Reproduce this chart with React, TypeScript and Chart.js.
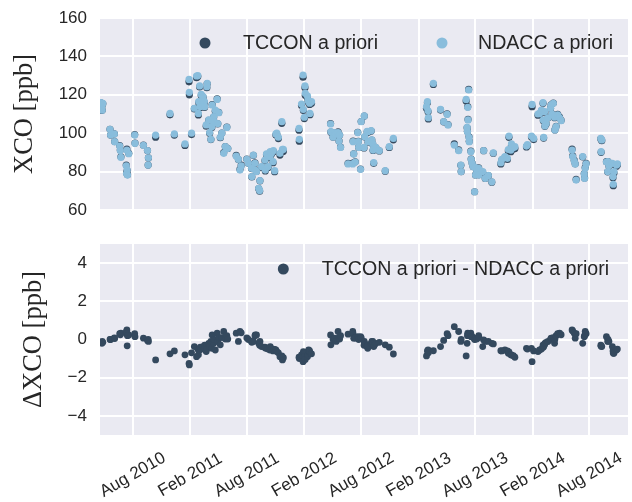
import React, { useEffect, useRef } from "react";
import { Chart, registerables } from "chart.js";

Chart.register(...registerables);

// ---------- data ----------
const obsDates = [
  "2010-04-21","2010-04-24","2010-04-25","2010-04-27","2010-05-20","2010-05-22","2010-06-03","2010-06-04","2010-06-20","2010-06-22",
  "2010-06-24","2010-07-13","2010-07-19","2010-07-11","2010-07-14","2010-07-12","2010-07-15","2010-08-07","2010-08-08","2010-09-04",
  "2010-09-17","2010-09-20","2010-09-19","2010-10-13","2010-11-28","2010-12-12","2011-01-15","2011-01-28","2011-01-29","2011-02-05",
  "2011-02-14","2011-02-21","2011-02-25","2011-02-28","2011-02-27","2011-03-03","2011-03-05","2011-03-08","2011-03-14","2011-03-18",
  "2011-03-19","2011-03-24","2011-03-27","2011-03-26","2011-04-01","2011-04-04","2011-04-08","2011-04-12","2011-04-11","2011-04-17",
  "2011-04-18","2011-04-22","2011-04-28","2011-04-30","2011-05-03","2011-05-08","2011-05-13","2011-05-19","2011-05-24","2011-05-29",
  "2011-06-01","2011-06-28","2011-07-05","2011-07-10","2011-07-14","2011-08-01","2011-08-06","2011-08-16","2011-08-17","2011-08-22",
  "2011-08-27","2011-08-28","2011-09-01","2011-09-08","2011-09-12","2011-09-11","2011-09-17","2011-09-28","2011-09-29","2011-10-03",
  "2011-10-08","2011-10-14","2011-10-15","2011-10-19","2011-10-24","2011-10-25","2011-10-29","2011-11-02","2011-11-05","2011-11-10",
  "2011-11-15","2011-11-21","2011-11-23","2011-11-26","2012-01-15","2012-01-16","2012-01-23","2012-01-28","2012-01-29","2012-02-01",
  "2012-02-03","2012-02-04","2012-02-11","2012-02-13","2012-02-15","2012-02-19","2012-02-18","2012-02-24","2012-04-25","2012-04-26",
  "2012-05-03","2012-05-08","2012-05-13","2012-05-19","2012-05-22","2012-05-24","2012-05-27","2012-06-20","2012-07-05","2012-07-06",
  "2012-07-08","2012-07-13","2012-07-21","2012-07-23","2012-07-24","2012-07-30","2012-08-01","2012-08-11","2012-08-12","2012-08-10",
  "2012-08-20","2012-08-22","2012-08-23","2012-09-02","2012-09-04","2012-09-07","2012-09-08","2012-09-10","2012-09-12","2012-09-17",
  "2012-09-28","2012-10-17","2012-10-30","2012-11-12","2013-02-26","2013-03-01","2013-03-03","2013-03-04","2013-03-20","2013-04-12",
  "2013-04-22","2013-05-03","2013-05-06","2013-05-26","2013-06-09","2013-06-16","2013-06-17","2013-07-03","2013-07-06","2013-07-08",
  "2013-07-09","2013-07-07","2013-07-11","2013-07-12","2013-07-13","2013-07-18","2013-07-19","2013-07-22","2013-07-25","2013-07-30",
  "2013-08-01","2013-08-02","2013-08-06","2013-08-12","2013-08-13","2013-08-25","2013-08-28","2013-09-02","2013-09-12","2013-09-23",
  "2013-09-28","2013-10-22","2013-10-25","2013-11-04","2013-11-12","2013-11-15","2013-11-17","2013-11-23","2013-11-25","2013-12-01",
  "2013-12-06","2014-01-12","2014-01-15","2014-01-28","2014-01-30","2014-02-04","2014-02-18","2014-02-23","2014-03-01","2014-03-06",
  "2014-03-07","2014-03-08","2014-03-11","2014-03-12","2014-03-16","2014-03-22","2014-03-30","2014-04-01","2014-04-04","2014-04-08",
  "2014-04-12","2014-04-13","2014-04-17","2014-04-22","2014-04-28","2014-05-03","2014-06-07","2014-06-09","2014-06-14","2014-06-17",
  "2014-06-20","2014-07-11","2014-07-16","2014-07-17","2014-07-19","2014-07-22","2014-09-07","2014-09-10","2014-09-08","2014-09-25",
  "2014-09-30","2014-09-29","2014-10-03","2014-10-14","2014-10-16","2014-10-17","2014-10-19","2014-10-27","2014-10-30",
];

// NDACC a priori XCO [ppb]
const ndaccXco = [
  116, 114, 112, 115.5, 102, 99, 99.6, 95.6, 93.3, 91,
  87.4, 91.2, 89.3, 83, 80.8, 79, 78.2, 99, 94.7, 93.7,
  91, 87.2, 83.4, 99, 110.3, 99.6, 94.4, 128, 121.3, 100,
  113, 129.8, 130, 116.4, 110.3, 124.6, 113.8, 120.2, 119, 116.4,
  113.8, 104.3, 126, 124.2, 106.9, 100.3, 96.8, 114.7, 103.4, 108.6,
  106, 112, 117.6, 105, 110.7, 97.9, 100, 89.5, 93, 103,
  92, 88.1, 86.4, 80.8, 83, 86.4, 84.3, 81.7, 77.4, 88.6,
  84.3, 80.8, 80, 71.3, 75.3, 70.1, 82.6, 86, 80.8, 89.2,
  82.6, 87.8, 90.4, 89.7, 85.2, 90.9, 80.5, 99.6, 100, 97.9,
  89.5, 106, 91.6, 91.6, 102.5, 96.8, 115.2, 130.3, 112.4, 108.3,
  124.6, 120.8, 119.4, 117.3, 116.4, 110.3, 115.6, 116.4, 104.8, 100.8,
  97.9, 100.3, 99.5, 100.3, 95.9, 99, 92.6, 84, 84, 95.6,
  89.2, 85, 100.3, 95.6, 92.6, 81.2, 106, 109, 98.2, 92.6,
  101, 100.8, 95.6, 101.3, 96.5, 94.4, 91.2, 84.7, 92, 92.6,
  90.9, 80.5, 93, 97.3, 113.8, 116.4, 111.7, 108.1, 126, 112.4,
  106, 109.8, 104.3, 93.8, 90.9, 83.4, 80, 117.6, 103, 113.5,
  106.9, 100.8, 122.5, 97.9, 95.6, 90.4, 86.4, 84.3, 82.6, 69.5,
  82.2, 78.2, 80, 81.7, 78.2, 80, 90.9, 76.5, 78, 74.7,
  89.8, 84.6, 86.4, 87.8, 86.9, 91.5, 98.5, 91.2, 94.4, 92.5,
  93, 93.3, 94, 98.5, 115, 97.3, 110, 110.3, 112, 115.9,
  106.9, 97.8, 111.2, 103.8, 105, 108, 113, 114.7, 110, 115.6,
  108.3, 101.7, 103.4, 109.5, 108, 106.5, 91.2, 87.8, 85.5, 84,
  75.6, 87.8, 78.8, 76.5, 81.7, 84, 97.3, 96.5, 90.4, 85,
  85.2, 80, 83, 84.3, 77.4, 73.4, 80, 83.4, 84,
];

// TCCON a priori minus NDACC a priori [ppb]
const deltaXco = [
  -0.15, -0.2, -0.1, -0.15, 0.0, 0.0, 0.08, 0.05, 0.3, 0.25,
  0.33, 0.5, 0.24, 0.4, -0.33, 0.3, 0.2, 0.3, 0.15, 0.07,
  -0.05, -0.1, 0.0, -1.07, -0.75, -0.6, -0.8, -1.25, -1.33, -0.7,
  -0.37, -0.9, -0.5, -0.55, -0.8, -0.55, -0.4, -0.5, -0.37, -0.45,
  -0.3, -0.63, -0.3, -0.5, -0.2, -0.35, -0.1, 0.24, -0.46, -0.2,
  0.0, -0.55, 0.33, -0.1, 0.1, -0.28, 0.1, 0.42, 0.02, 0.2,
  0.02, 0.33, -0.1, 0.42, 0.35, 0.08, 0.0, -0.1, -0.15, -0.1,
  0.2, 0.24, 0.24, -0.2, -0.1, -0.3, -0.37, -0.4, -0.45, -0.46,
  -0.5, -0.55, -0.37, -0.5, -0.6, -0.5, -0.52, -0.55, -0.63, -0.7,
  -0.9, -0.86, -1.07, -0.95, -0.93, -1.0, -0.8, -1.16, -0.63, -0.7,
  -0.9, -1.05, -0.9, -0.8, -0.55, -0.7, -0.6, -0.75, 0.24, -0.28,
  0.0, 0.07, -0.1, 0.42, 0.1, 0.02, 0.2, 0.28, 0.42, 0.3,
  0.07, 0.07, 0.15, 0.1, 0.0, 0.15, 0.1, -0.1, -0.2, -0.3,
  -0.37, -0.46, -0.3, -0.2, -0.1, -0.1, -0.2, -0.37, -0.3, -0.2,
  -0.15, -0.28, -0.4, -0.76, -0.86, -0.6, -0.55, -0.7, -0.59, -0.37,
  -0.05, 0.3, 0.2, 0.67, 0.42, -0.1, 0.0, -0.86, -0.2, 0.33,
  0.3, 0.2, 0.3, 0.25, 0.2, 0.33, 0.15, 0.15, 0.1, 0.0,
  0.02, 0.05, 0.02, 0.2, 0.1, -0.37, -0.02, -0.1, -0.1, -0.2,
  -0.23, -0.59, -0.6, -0.55, -0.6, -0.72, -0.65, -0.8, -0.81, -0.85,
  -0.93, -0.46, -0.5, -0.46, -1.16, -0.6, -0.63, -0.55, -0.5, -0.3,
  -0.4, -0.35, -0.28, -0.2, -0.15, -0.1, 0.0, 0.07, 0.05, 0.1,
  -0.2, 0.0, 0.2, 0.3, 0.33, 0.25, 0.5, 0.45, 0.33, 0.07,
  0.3, -0.2, 0.15, 0.2, 0.42, 0.3, -0.3, -0.37, -0.35, 0.15,
  0.0, -0.1, -0.1, -0.37, -0.6, -0.72, -0.72, -0.55, -0.5,
];

const xTickDates = [
  "2010-08-01", "2011-02-01", "2011-08-01", "2012-02-01", "2012-08-01",
  "2013-02-01", "2013-08-01", "2014-02-01", "2014-08-01",
];
const xTickLabels = [
  "Aug 2010", "Feb 2011", "Aug 2011", "Feb 2012", "Aug 2012",
  "Feb 2013", "Aug 2013", "Feb 2014", "Aug 2014",
];
const xRange = ["2010-04-18", "2014-12-03"];
const topYTicks = [60, 80, 100, 120, 140, 160];
const bottomYTicks = [-4, -2, 0, 2, 4];
const topYRange = [60, 160];
const bottomYRange = [-5, 5];

const seriesNames = ["TCCON a priori", "NDACC a priori"];
const diffName = "TCCON a priori - NDACC a priori";

// ---------- style ----------
const DARK = "#34495e";
const LIGHT = "#89bddc";
const BG = "#EAEAF2";
const TEXT = "#262626";
const SANS = '"Liberation Sans", Arial, sans-serif';
const SERIF = '"Liberation Serif", "Times New Roman", serif';

const toMs = (s: string) => {
  const [y, m, d] = s.split("-").map(Number);
  return Date.UTC(y, m - 1, d);
};

const xMs = obsDates.map(toMs);
const tcconXco = ndaccXco.map((v, i) => v + deltaXco[i]);

const bgPlugin = {
  id: "bgfill",
  beforeDraw(chart: any) {
    const { ctx, chartArea: a } = chart;
    ctx.save();
    ctx.fillStyle = BG;
    ctx.fillRect(a.left, a.top, a.right - a.left, a.bottom - a.top);
    ctx.restore();
  },
};

function makeLegendPlugin(items: { color: string; label: string; mx: number; tx: number }[]) {
  return {
    id: "customLegend",
    afterDraw(chart: any) {
      const { ctx, chartArea: a } = chart;
      ctx.save();
      items.forEach((it) => {
        ctx.beginPath();
        ctx.fillStyle = it.color;
        ctx.arc(a.left + it.mx, a.top + 25, 5.5, 0, Math.PI * 2);
        ctx.fill();
        ctx.fillStyle = TEXT;
        ctx.font = `19.6px ${SANS}`;
        ctx.textAlign = "left";
        ctx.textBaseline = "middle";
        ctx.fillText(it.label, a.left + it.tx, a.top + 26);
      });
      ctx.restore();
    },
  };
}

const xLabelPlugin = {
  id: "xlabels",
  afterDraw(chart: any) {
    const { ctx, chartArea: a } = chart;
    const sx = chart.scales.x;
    ctx.save();
    ctx.fillStyle = TEXT;
    ctx.font = `17px ${SANS}`;
    ctx.textAlign = "center";
    ctx.textBaseline = "middle";
    xTickDates.forEach((d, i) => {
      const px = sx.getPixelForValue(toMs(d));
      ctx.save();
      ctx.translate(px, a.bottom + 40);
      ctx.rotate(-Math.PI / 6);
      ctx.fillText(xTickLabels[i], 0, 0);
      ctx.restore();
    });
    ctx.restore();
  },
};

function xScale(height: number) {
  return {
    type: "linear" as const,
    min: toMs(xRange[0]),
    max: toMs(xRange[1]),
    afterBuildTicks: (s: any) => {
      s.ticks = xTickDates.map((d) => ({ value: toMs(d) }));
    },
    afterFit: (s: any) => {
      s.height = height;
    },
    ticks: { display: false },
    grid: { color: "#ffffff", lineWidth: 2, drawTicks: false },
    border: { display: false },
  };
}

function yScale(range: number[], ticks: number[], title: string, titlePad: number) {
  return {
    type: "linear" as const,
    min: range[0],
    max: range[1],
    afterBuildTicks: (s: any) => {
      s.ticks = ticks.map((v) => ({ value: v }));
    },
    afterFit: (s: any) => {
      s.width = 100;
    },
    ticks: {
      padding: 0,
      color: TEXT,
      font: { family: SANS, size: 17 },
      callback: (v: any) => (Number(v) < 0 ? "\u2212" + Math.abs(Number(v)) : String(v)),
    },
    grid: {
      color: "#ffffff",
      lineWidth: 2,
      drawTicks: true,
      tickLength: 13,
      tickColor: "rgba(0,0,0,0)",
    },
    border: { display: false },
    title: {
      display: true,
      text: title,
      color: TEXT,
      font: { family: SERIF, size: 26.5 },
      padding: { top: titlePad, bottom: 0 },
    },
  };
}

export default function App() {
  const topRef = useRef<HTMLCanvasElement | null>(null);
  const botRef = useRef<HTMLCanvasElement | null>(null);

  useEffect(() => {
    const top = new Chart(topRef.current as HTMLCanvasElement, {
      type: "scatter",
      data: {
        datasets: [
          {
            label: seriesNames[1],
            data: xMs.map((x, i) => ({ x, y: ndaccXco[i] })),
            backgroundColor: LIGHT,
            pointRadius: 3.6,
            borderWidth: 0,
            clip: 0,
          },
          {
            label: seriesNames[0],
            data: xMs.map((x, i) => ({ x, y: tcconXco[i] })),
            backgroundColor: DARK,
            pointRadius: 3.6,
            borderWidth: 0,
            clip: 0,
          },
        ],
      },
      options: {
        responsive: false,
        animation: false,
        events: [],
        layout: { padding: { top: 18, bottom: 15, left: 0, right: 0 } },
        plugins: { legend: { display: false }, tooltip: { enabled: false } },
        scales: {
          x: xScale(0),
          y: yScale(topYRange, topYTicks, "XCO [ppb]", 9),
        },
      } as any,
      plugins: [
        bgPlugin,
        makeLegendPlugin([
          { color: DARK, label: seriesNames[0], mx: 105, tx: 143 },
          { color: LIGHT, label: seriesNames[1], mx: 342, tx: 378 },
        ]),
      ],
    });

    const bot = new Chart(botRef.current as HTMLCanvasElement, {
      type: "scatter",
      data: {
        datasets: [
          {
            label: diffName,
            data: xMs.map((x, i) => ({ x, y: deltaXco[i] })),
            backgroundColor: DARK,
            pointRadius: 3.4,
            borderWidth: 0,
            clip: 0,
          },
        ],
      },
      options: {
        responsive: false,
        animation: false,
        events: [],
        layout: { padding: { top: 19, bottom: 0, left: 0, right: 0 } },
        plugins: { legend: { display: false }, tooltip: { enabled: false } },
        scales: {
          x: xScale(67),
          y: yScale(bottomYRange, bottomYTicks, "\u0394XCO [ppb]", 18),
        },
      } as any,
      plugins: [
        bgPlugin,
        xLabelPlugin,
        makeLegendPlugin([{ color: DARK, label: diffName, mx: 183.3, tx: 221.7 }]),
      ],
    });

    return () => {
      top.destroy();
      bot.destroy();
    };
  }, []);

  return (
    <div style={{ position: "absolute", left: 0, top: 0, width: 632, height: 502, background: "#ffffff" }}>
      <canvas ref={topRef} width={632} height={225} style={{ position: "absolute", left: 0, top: 0, width: 632, height: 225 }} />
      <canvas ref={botRef} width={632} height={277} style={{ position: "absolute", left: 0, top: 225, width: 632, height: 277 }} />
    </div>
  );
}
